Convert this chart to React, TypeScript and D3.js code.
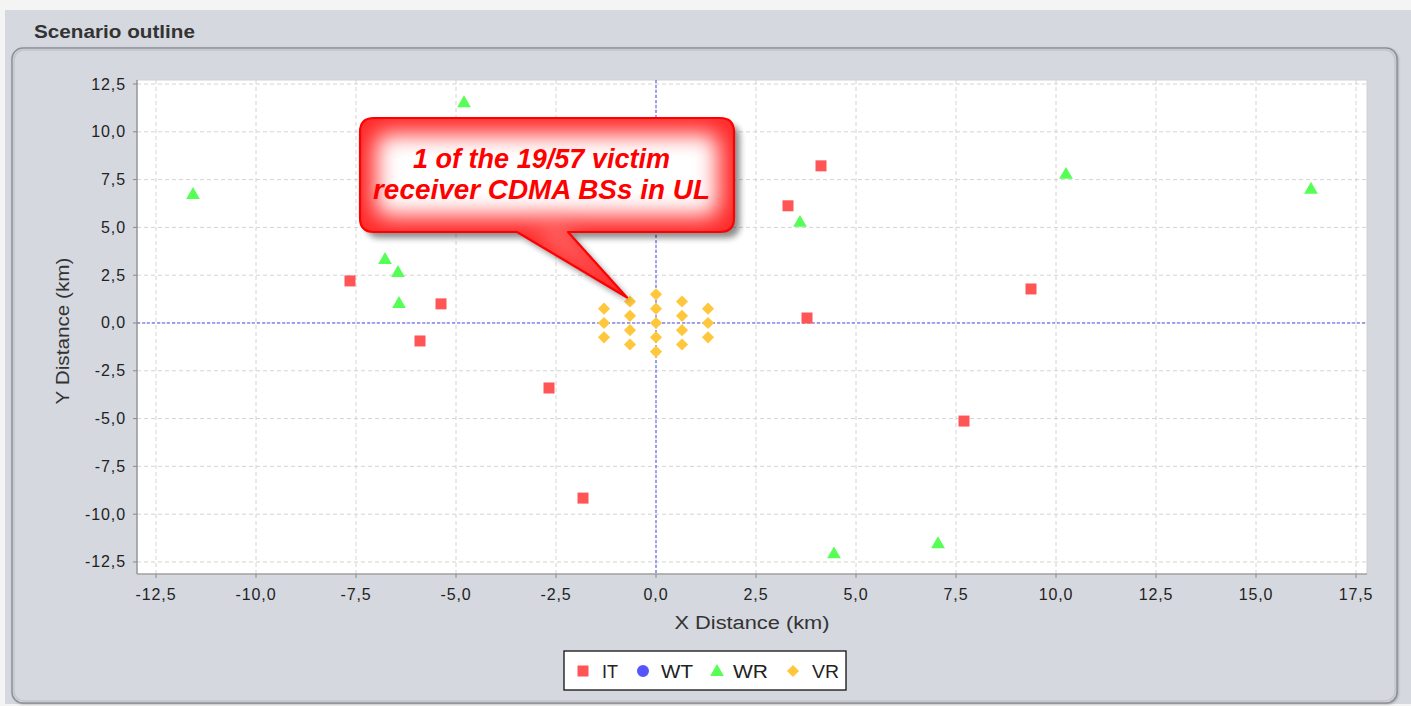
import React from "react";
import * as d3 from "d3";

// ---- data ----
const itPoints: [number, number][] = [
  [-7.65, 2.2], [-5.375, 1.0], [-5.9, -0.94], [-2.675, -3.4], [-1.825, -9.16],
  [3.3, 6.13], [4.125, 8.22], [3.775, 0.26], [7.7, -5.13], [9.375, 1.78],
];
const wtPoints: [number, number][] = [];
const wrPoints: [number, number][] = [
  [-11.575, 6.75], [-4.8, 11.55], [-6.775, 3.35], [-6.45, 2.67], [-6.425, 1.05],
  [3.6, 5.29], [10.25, 7.8], [16.375, 7.02], [4.45, -12.05], [7.05, -11.52],
];
const vrPoints: [number, number][] = [
  [0, 0], [0, 0.75], [0, 1.5], [0, -0.75], [0, -1.5],
  [-0.65, 0.375], [-0.65, 1.125], [-0.65, -0.375], [-0.65, -1.125],
  [0.65, 0.375], [0.65, 1.125], [0.65, -0.375], [0.65, -1.125],
  [-1.3, 0], [-1.3, 0.75], [-1.3, -0.75],
  [1.3, 0], [1.3, 0.75], [1.3, -0.75],
];
const xTicks = [-12.5, -10, -7.5, -5, -2.5, 0, 2.5, 5, 7.5, 10, 12.5, 15, 17.5];
const yTicks = [-12.5, -10, -7.5, -5, -2.5, 0, 2.5, 5, 7.5, 10, 12.5];
const legendNames = ["IT", "WT", "WR", "VR"];
const calloutLines = ["1 of the 19/57 victim", "receiver CDMA BSs in UL"];
const calloutTarget: [number, number] = [-0.65, 1.125];

const COLORS = { IT: "#ff5555", WT: "#5555ff", WR: "#55ff55", VR: "#ffc83c" };
const FONT = "'Liberation Sans', Arial, sans-serif";
const fmt = (v: number) => v.toFixed(1).replace(".", ",");

const W = 1411, H = 706;
const P = { left: 137, top: 80, right: 1367, bottom: 574 };

const x = d3.scaleLinear().domain([-12.975, 17.775]).range([P.left, P.right]);
const y = d3.scaleLinear().domain([-13.13, 12.71]).range([P.bottom, P.top]);

const sq = d3.symbol(d3.symbolSquare, 121)() as string;
const tri = d3.symbol(d3.symbolTriangle, 82)() as string;
const dia = d3.symbol(d3.symbolSquare, 74)() as string;
const circ = d3.symbol(d3.symbolCircle, 113)() as string;

function Marker({ kind, cx, cy }: { kind: string; cx: number; cy: number }) {
  if (kind === "IT") return <path d={sq} transform={`translate(${cx},${cy})`} fill={COLORS.IT} />;
  if (kind === "WT") return <path d={circ} transform={`translate(${cx},${cy})`} fill={COLORS.WT} />;
  if (kind === "WR") return <path d={tri} transform={`translate(${cx},${cy + 1})`} fill={COLORS.WR} />;
  return <path d={dia} transform={`translate(${cx},${cy}) rotate(45)`} fill={COLORS.VR} />;
}

export default function App() {
  // callout geometry
  const bx0 = 360, by0 = 118, bx1 = 734, by1 = 232, r = 14;
  const tipX = x(calloutTarget[0]) - 3, tipY = y(calloutTarget[1]) - 4;
  const pL = 517, pR = 568;
  const calloutPath =
    `M${bx0 + r},${by0} H${bx1 - r} Q${bx1},${by0} ${bx1},${by0 + r} V${by1 - r} Q${bx1},${by1} ${bx1 - r},${by1}` +
    ` H${pR} L${tipX},${tipY} L${pL},${by1} H${bx0 + r} Q${bx0},${by1} ${bx0},${by1 - r} V${by0 + r} Q${bx0},${by0} ${bx0 + r},${by0} Z`;

  const legendItems = [
    { k: "IT", mx: 583, tx: 602, tl: 16 },
    { k: "WT", mx: 643, tx: 661, tl: 32 },
    { k: "WR", mx: 717, tx: 733, tl: 35 },
    { k: "VR", mx: 793, tx: 812, tl: 27 },
  ];

  return (
    <svg width={W} height={H} style={{ position: "absolute", left: 0, top: 0, display: "block" }}
      fontFamily={FONT}>
      <defs>
        <filter id="shadow" x="-10%" y="-10%" width="130%" height="140%">
          <feGaussianBlur in="SourceAlpha" stdDeviation="3" />
          <feOffset dx="6" dy="6" result="o" />
          <feComponentTransfer><feFuncA type="linear" slope="0.45" /></feComponentTransfer>
        </filter>
        <filter id="glow" x="-20%" y="-40%" width="140%" height="180%">
          <feGaussianBlur stdDeviation="11" />
        </filter>
        <clipPath id="callClip"><path d={calloutPath} /></clipPath>
        <filter id="panelShadow" x="-5%" y="-5%" width="110%" height="110%">
          <feGaussianBlur in="SourceAlpha" stdDeviation="1.5" />
          <feOffset dx="1" dy="1" />
          <feComponentTransfer><feFuncA type="linear" slope="0.35" /></feComponentTransfer>
        </filter>
      </defs>

      {/* backgrounds */}
      <rect x={0} y={0} width={W} height={H} fill="#f4f4f4" />
      <rect x={5} y={10} width={W - 5} height={H - 12} fill="#d5d8df" />
      <text x={34} y={38} fontSize={18} fontWeight="bold" fill="#333" textLength={161}
        lengthAdjust="spacingAndGlyphs">Scenario outline</text>

      {/* panel */}
      <rect x={12} y={48} width={1385} height={655} rx={11} fill="#d5d8df" filter="url(#panelShadow)" />
      <rect x={12} y={48} width={1385} height={655} rx={11} fill="#d5d8df" stroke="#8e9096" strokeWidth={1.5} />
      <rect x={14} y={50} width={1381} height={651} rx={10} fill="none" stroke="#c2c5cc" strokeWidth={1.5} />

      {/* plot area */}
      <rect x={P.left} y={P.top} width={P.right - P.left} height={P.bottom - P.top} fill="#fff" stroke="#d0d0d0" />
      {xTicks.map((t) => (
        <line key={"gx" + t} x1={x(t)} x2={x(t)} y1={P.top} y2={P.bottom} stroke="#d4d4d4" strokeDasharray="4,3" />
      ))}
      {yTicks.map((t) => (
        <line key={"gy" + t} x1={P.left} x2={P.right} y1={y(t)} y2={y(t)} stroke="#d4d4d4" strokeDasharray="4,3" />
      ))}
      <line x1={x(0)} x2={x(0)} y1={P.top} y2={P.bottom} stroke="#5050f0" strokeDasharray="3,2" />
      <line x1={P.left} x2={P.right} y1={y(0)} y2={y(0)} stroke="#5050f0" strokeDasharray="3,2" />

      {/* axes */}
      <line x1={P.left} x2={P.left} y1={P.top} y2={P.bottom} stroke="#888" strokeWidth={1.2} />
      <line x1={P.left} x2={P.right} y1={P.bottom} y2={P.bottom} stroke="#888" strokeWidth={1.2} />
      {yTicks.map((t) => (
        <g key={"ty" + t}>
          <line x1={P.left - 4} x2={P.left} y1={y(t)} y2={y(t)} stroke="#888" />
          <text x={126} y={y(t) + 5.5} fontSize={16} letterSpacing={0.9} textAnchor="end" fill="#222">{fmt(t)}</text>
        </g>
      ))}
      {xTicks.map((t) => (
        <g key={"tx" + t}>
          <line x1={x(t)} x2={x(t)} y1={P.bottom} y2={P.bottom + 4} stroke="#888" />
          <text x={x(t)} y={600} fontSize={16} letterSpacing={0.9} textAnchor="middle" fill="#222">{fmt(t)}</text>
        </g>
      ))}
      <text x={(P.left + P.right) / 2} y={629} fontSize={18} textAnchor="middle" fill="#333" textLength={155}
        lengthAdjust="spacingAndGlyphs">X Distance (km)</text>
      <text transform={`translate(69,331) rotate(-90)`} fontSize={18} textAnchor="middle" fill="#333" textLength={147}
        lengthAdjust="spacingAndGlyphs">Y Distance (km)</text>

      {/* markers */}
      {itPoints.map((p, i) => <Marker key={"it" + i} kind="IT" cx={x(p[0])} cy={y(p[1])} />)}
      {wtPoints.map((p, i) => <Marker key={"wt" + i} kind="WT" cx={x(p[0])} cy={y(p[1])} />)}
      {wrPoints.map((p, i) => <Marker key={"wr" + i} kind="WR" cx={x(p[0])} cy={y(p[1])} />)}
      {vrPoints.map((p, i) => <Marker key={"vr" + i} kind="VR" cx={x(p[0])} cy={y(p[1])} />)}

      {/* callout */}
      <path d={calloutPath} fill="#000" filter="url(#shadow)" />
      <path d={calloutPath} fill="#ff2a2a" />
      <g clipPath="url(#callClip)">
        <rect x={bx0 + 16} y={by0 + 16} width={bx1 - bx0 - 32} height={by1 - by0 - 32} rx={10} fill="#fff" filter="url(#glow)" />
        <path d={`M${pR - 8},${by1 - 4} L${tipX - 10},${tipY - 8} L${pL + 14},${by1 - 4} Z`} fill="#ff9a9a" filter="url(#glow)" opacity={0.8} />
      </g>
      <path d={calloutPath} fill="none" stroke="#ff0000" strokeWidth={2.2} strokeLinejoin="round" />
      <text x={541.5} y={168} fontSize={27} fontWeight="bold" fontStyle="italic" fill="#ff0000" textAnchor="middle"
        textLength={257} lengthAdjust="spacingAndGlyphs">{calloutLines[0]}</text>
      <text x={541.5} y={199} fontSize={27} fontWeight="bold" fontStyle="italic" fill="#ff0000" textAnchor="middle"
        textLength={337} lengthAdjust="spacingAndGlyphs">{calloutLines[1]}</text>

      {/* legend */}
      <rect x={564} y={651} width={282} height={39} fill="#fff" stroke="#111" strokeWidth={1.3} />
      {legendItems.map((it, i) => (
        <g key={it.k}>
          <Marker kind={it.k} cx={it.mx} cy={671} />
          <text x={it.tx} y={677.5} fontSize={19} fill="#222" textLength={it.tl} lengthAdjust="spacingAndGlyphs">{legendNames[i]}</text>
        </g>
      ))}
    </svg>
  );
}
